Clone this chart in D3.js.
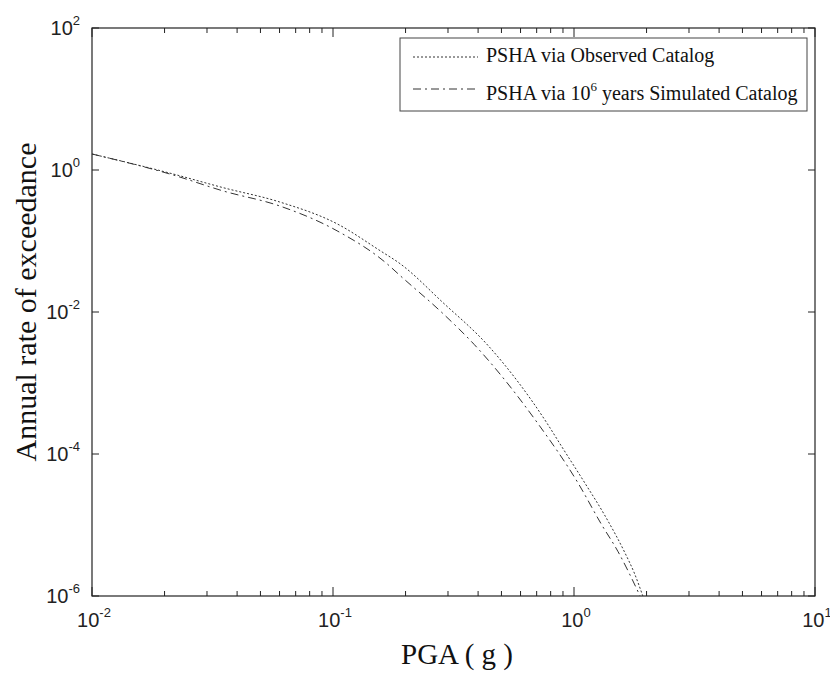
<!DOCTYPE html>
<html lang="en">
<head>
<meta charset="UTF-8">
<title>PSHA hazard curves</title>
<script src="https://d3js.org/d3.v7.min.js"></script>
<style>
  body { margin: 0; background: #fff; }
  .tick-label { font-family: "Liberation Sans", Arial, sans-serif; fill: #222; }
  .serif { font-family: "Liberation Serif", "Times New Roman", serif; fill: #111; }
</style>
</head>
<body>
<svg id="chart" width="830" height="675"></svg>
<script>
// tick exponents (labels are 10^n)
var xExponents = [-2, -1, 0, 1];
var yExponents = [-6, -4, -2, 0, 2];

// PSHA via observed catalog (dotted)
var obsPga  = [0.01, 0.0217, 0.035, 0.06, 0.104, 0.157, 0.19, 0.286, 0.44, 0.773, 0.892, 1.11, 1.35, 1.63, 1.78, 1.93];
var obsRate = [1.68, 0.879, 0.564, 0.355, 0.1745, 0.0729, 0.0478, 0.01355, 0.00337, 2.71e-4, 1.25e-4, 3.89e-5, 1.32e-5, 4.0e-6, 2.1e-6, 1e-6];

// PSHA via 10^6 years simulated catalog (dash-dot)
var simPga  = [0.01, 0.0217, 0.035, 0.06, 0.104, 0.1675, 0.19, 0.286, 0.385, 0.702, 1.04, 1.3, 1.52, 1.88];
var simRate = [1.68, 0.851, 0.507, 0.312, 0.139, 0.0478, 0.0325, 0.0095, 0.0035, 2.8e-4, 3.89e-5, 1.02e-5, 4.27e-6, 1e-6];

var legendNames = ["PSHA via Observed Catalog", "PSHA via 10", "6", " years Simulated Catalog"];

var svg = d3.select("#chart");
// plot box (note: "top" is reserved on window, so use m-prefixed names)
var mLeft = 92, mRight = 815, mTop = 28, mBottom = 596;

var x = d3.scaleLog().domain([0.01, 10]).range([mLeft, mRight]);
var y = d3.scaleLog().domain([1e-6, 100]).range([mBottom, mTop]);

// minor ticks for x (2..9 in each decade)
var xMinor = [];
xExponents.slice(0, -1).forEach(function(e) {
  for (var k = 2; k <= 9; k++) xMinor.push(k * Math.pow(10, e));
});
var xMajor = xExponents.map(function(e) { return Math.pow(10, e); });
var yMajor = yExponents.map(function(e) { return Math.pow(10, e); });

var g = svg.append("g");

// frame
g.append("rect")
  .attr("x", mLeft).attr("y", mTop)
  .attr("width", mRight - mLeft).attr("height", mBottom - mTop)
  .attr("fill", "none").attr("stroke", "#222").attr("stroke-width", 1.2);

// x ticks, bottom and top, pointing inward
function xTicks(vals, len) {
  g.selectAll(null).data(vals).enter().append("line")
    .attr("x1", d => x(d)).attr("x2", d => x(d))
    .attr("y1", mBottom).attr("y2", mBottom - len)
    .attr("stroke", "#222");
  g.selectAll(null).data(vals).enter().append("line")
    .attr("x1", d => x(d)).attr("x2", d => x(d))
    .attr("y1", mTop).attr("y2", mTop + len)
    .attr("stroke", "#222");
}
xTicks(xMinor, 5);
xTicks(xMajor, 9);

// y ticks, left and right
g.selectAll(null).data(yMajor).enter().append("line")
  .attr("x1", mLeft).attr("x2", mLeft + 7)
  .attr("y1", d => y(d)).attr("y2", d => y(d))
  .attr("stroke", "#222");
g.selectAll(null).data(yMajor).enter().append("line")
  .attr("x1", mRight).attr("x2", mRight - 7)
  .attr("y1", d => y(d)).attr("y2", d => y(d))
  .attr("stroke", "#222");

// x tick labels
var xl = g.selectAll(null).data(xExponents).enter().append("text")
  .attr("class", "tick-label")
  .attr("x", d => x(Math.pow(10, d)) + 2)
  .attr("y", mBottom + 31)
  .attr("text-anchor", "middle")
  .style("font-size", "20px");
xl.append("tspan").text("10");
xl.append("tspan").attr("dy", -10).style("font-size", "13px").text(d => d);

// y tick labels
var yl = g.selectAll(null).data(yExponents).enter().append("text")
  .attr("class", "tick-label")
  .attr("x", mLeft - 12)
  .attr("y", d => y(Math.pow(10, d)) + 7)
  .attr("text-anchor", "end")
  .style("font-size", "20px");
yl.append("tspan").text("10");
yl.append("tspan").attr("dy", -10).style("font-size", "13px").text(d => d);

// axis titles
svg.append("text").attr("class", "serif")
  .attr("x", 457).attr("y", 664)
  .attr("text-anchor", "middle")
  .style("font-size", "29px")
  .text("PGA ( g )");

svg.append("text").attr("class", "serif")
  .attr("transform", "translate(36,302) rotate(-90)")
  .attr("text-anchor", "middle")
  .style("font-size", "30px")
  .text("Annual rate of exceedance");

// curves
var line = d3.line()
  .x(d => x(d[0])).y(d => y(d[1]))
  .curve(d3.curveMonotoneX);

svg.append("clipPath").attr("id", "clip")
  .append("rect").attr("x", mLeft).attr("y", mTop)
  .attr("width", mRight - mLeft).attr("height", mBottom - mTop);

var obs = d3.zip(obsPga, obsRate);
var sim = d3.zip(simPga, simRate);

svg.append("path").datum(sim)
  .attr("clip-path", "url(#clip)")
  .attr("d", line)
  .attr("fill", "none").attr("stroke", "#333").attr("stroke-width", 1)
  .attr("stroke-dasharray", "8,4,2,4");

svg.append("path").datum(obs)
  .attr("clip-path", "url(#clip)")
  .attr("d", line)
  .attr("fill", "none").attr("stroke", "#333").attr("stroke-width", 1)
  .attr("stroke-dasharray", "2,2");

// legend
var lg = svg.append("g");
lg.append("rect")
  .attr("x", 400).attr("y", 38).attr("width", 407).attr("height", 73)
  .attr("fill", "#fff").attr("stroke", "#444").attr("stroke-width", 1);

lg.append("line").attr("x1", 413).attr("x2", 478).attr("y1", 57).attr("y2", 57)
  .attr("stroke", "#333").attr("stroke-dasharray", "2,2");
lg.append("line").attr("x1", 413).attr("x2", 478).attr("y1", 89).attr("y2", 89)
  .attr("stroke", "#333").attr("stroke-dasharray", "8,4,2,4");

lg.append("text").attr("class", "serif")
  .attr("x", 486).attr("y", 62).style("font-size", "20px")
  .text(legendNames[0]);
var t2 = lg.append("text").attr("class", "serif")
  .attr("x", 486).attr("y", 100).style("font-size", "20px");
t2.append("tspan").text(legendNames[1]);
t2.append("tspan").attr("dy", -9).style("font-size", "13px").text(legendNames[2]);
t2.append("tspan").attr("dy", 9).text(legendNames[3]);
</script>
</body>
</html>
